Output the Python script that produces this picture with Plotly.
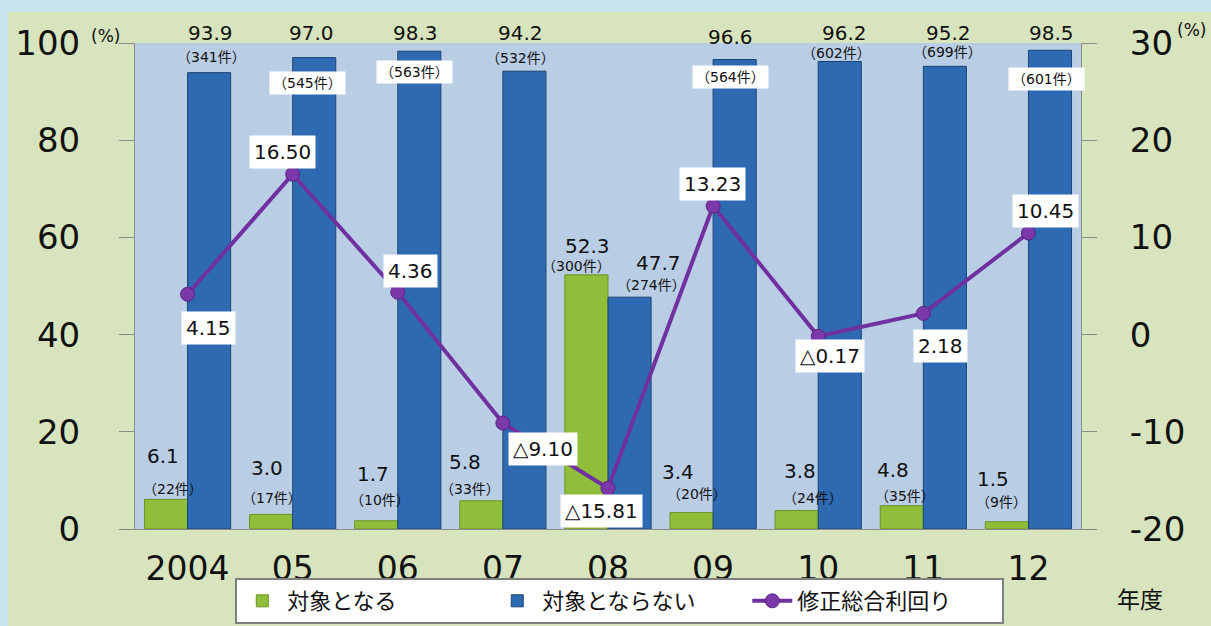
import plotly.graph_objects as go

# ---------------- data ----------------
years = ["2004", "05", "06", "07", "08", "09", "10", "11", "12"]
target_pct = [6.1, 3.0, 1.7, 5.8, 52.3, 3.4, 3.8, 4.8, 1.5]
target_cnt = [22, 17, 10, 33, 300, 20, 24, 35, 9]
nontarget_pct = [93.9, 97.0, 98.3, 94.2, 47.7, 96.6, 96.2, 95.2, 98.5]
nontarget_cnt = [341, 545, 563, 532, 274, 564, 602, 699, 601]
yield_pct = [4.15, 16.50, 4.36, -9.10, -15.81, 13.23, -0.17, 2.18, 10.45]
left_ticks = [0, 20, 40, 60, 80, 100]
right_ticks = [-20, -10, 0, 10, 20, 30]
right_tick_text = ["-20", "-10", "0", "10", "20", "30"]

name_target = "対象となる"
name_nontarget = "対象とならない"
name_yield = "修正総合利回り"

# ---------------- label placement (pixel offsets) ----------------
g_off = [(-3, 43, 7, 10), (-4, 46, 1, 16), (-3, 47, 4, 21), (-16, 39, -11, 12),
         (1, 29, -10, 9), (-14, 40, 5, 18), (3, 40, 16, 13), (-9, 36, 3, 10),
         (-14, 43, -5, 20)]
b_off = [(1, 40, 2, 16), (-3, 25, -7, -25), (-4, 18, -5, -21), (-4, 38, -4, 13),
         (29, 34, 22, 12), (-4, 23, -4, -17), (5, 28, -3, 8), (4, 33, 3, 14),
         (2, 17, -3, -29)]
b_box = [False, True, True, False, False, True, False, False, True]
l_off = [(21, -34), (-10, 22), (13, 21), (40, -26), (-7, -23), (-1, 22),
         (12, -20), (17, -33), (17, 22)]

FONT = "DejaVu Sans, Noto Sans CJK JP, sans-serif"
GREEN = "#8FBE3A"
BLUE = "#2E6AB1"
PURPLE = "#7030A0"

fig = go.Figure()
fig.add_trace(go.Bar(x=years, y=target_pct, name=name_target,
                     marker=dict(color=GREEN, line=dict(color="#6C9424", width=1))))
fig.add_trace(go.Bar(x=years, y=nontarget_pct, name=name_nontarget,
                     marker=dict(color=BLUE, line=dict(color="#1B4472", width=1))))
fig.add_trace(go.Scatter(x=years, y=yield_pct, name=name_yield, yaxis="y2",
                         mode="lines+markers",
                         line=dict(color=PURPLE, width=4),
                         marker=dict(color="#7A38A8", size=14,
                                     line=dict(color="#5B2485", width=1))))

ann = []
HALF = 21.5
for i in range(len(years)):
    dxv, dyv, dxc, dyc = g_off[i]
    ann.append(dict(x=i, y=target_pct[i], xref="x", yref="y",
                    text=f"{target_pct[i]:.1f}", showarrow=False,
                    xshift=-HALF + dxv, yshift=dyv,
                    font=dict(size=20, color="#111", family=FONT)))
    ann.append(dict(x=i, y=target_pct[i], xref="x", yref="y",
                    text=f"（{target_cnt[i]}件）", showarrow=False,
                    xshift=-HALF + dxc, yshift=dyc,
                    font=dict(size=14, color="#111", family=FONT)))
    dxv, dyv, dxc, dyc = b_off[i]
    ann.append(dict(x=i, y=nontarget_pct[i], xref="x", yref="y",
                    text=f"{nontarget_pct[i]:.1f}", showarrow=False,
                    xshift=HALF + dxv, yshift=dyv,
                    font=dict(size=20, color="#111", family=FONT)))
    c = dict(x=i, y=nontarget_pct[i], xref="x", yref="y",
             text=f"（{nontarget_cnt[i]}件）", showarrow=False,
             xshift=HALF + dxc, yshift=dyc,
             font=dict(size=14, color="#111", family=FONT))
    if b_box[i]:
        c.update(bgcolor="white", borderpad=3)
    ann.append(c)
    v = yield_pct[i]
    txt = f"{v:.2f}" if v >= 0 else f"△{abs(v):.2f}"
    dx, dy = l_off[i]
    ann.append(dict(x=i, y=v, xref="x", yref="y2", text=txt, showarrow=False,
                    xshift=dx, yshift=dy, bgcolor="white", borderpad=4,
                    font=dict(size=20, color="#111", family=FONT)))

ann.append(dict(x=-0.031, y=1.0144, xref="paper", yref="paper", text="(%)",
                xanchor="center", yanchor="middle",
                showarrow=False, font=dict(size=17, color="#111", family=FONT)))
ann.append(dict(x=1.117, y=1.027, xref="paper", yref="paper", text="(%)",
                xanchor="center", yanchor="middle",
                showarrow=False, font=dict(size=17, color="#111", family=FONT)))
ann.append(dict(x=1.062, y=-0.146, xref="paper", yref="paper", text="年度",
                xanchor="center", yanchor="middle",
                showarrow=False, font=dict(size=23, color="#111", family=FONT)))

shapes = [
    dict(type="rect", xref="paper", yref="paper", x0=-0.1342, x1=1.14,
         y0=-0.21, y1=1.0638, fillcolor="#D7E4BD", line=dict(width=0), layer="below"),
    dict(type="rect", xref="paper", yref="paper", x0=0, x1=1, y0=0, y1=1,
         fillcolor="#B9CDE5", line=dict(width=0), layer="below"),
]

fig.update_layout(
    width=1211, height=626,
    margin=dict(l=135, r=130, t=43, b=97, autoexpand=False),
    paper_bgcolor="#C8E5EE", plot_bgcolor="rgba(0,0,0,0)",
    barmode="group", bargap=0.18, bargroupgap=0,
    font=dict(family=FONT, color="#111"),
    showlegend=True,
    legend=dict(orientation="h", x=0.106, y=-0.1955, xanchor="left", yanchor="bottom",
                bgcolor="white", bordercolor="#808080", borderwidth=2,
                font=dict(size=22, family=FONT, color="#111"),
                entrywidth=200, traceorder="normal", itemwidth=40),
    xaxis=dict(type="category", range=[-0.5, len(years) - 0.5], autorange=False,
               automargin=False,
               showline=True, linecolor="#8C8C8C", linewidth=1,
               ticks="", showgrid=False, tickfont=dict(size=33, family=FONT, color="#111"),
               ticklabelstandoff=10),
    yaxis=dict(range=[0, 100], tickvals=left_ticks, automargin=False,
               showline=True, linecolor="#8C8C8C",
               ticks="outside", ticklen=15, tickcolor="#8C8C8C", showgrid=False,
               zeroline=False, tickfont=dict(size=34, family=FONT, color="#111"),
               ticklabelstandoff=32),
    yaxis2=dict(range=[-20, 30], tickvals=right_ticks, ticktext=right_tick_text,
                overlaying="y", side="right", automargin=False,
                showline=True, linecolor="#8C8C8C", ticks="outside", ticklen=15,
                tickcolor="#8C8C8C", showgrid=False, zeroline=False,
                tickfont=dict(size=34, family=FONT, color="#111"),
                ticklabelstandoff=26),
    annotations=ann, shapes=shapes,
)

fig.write_html("out.html")
